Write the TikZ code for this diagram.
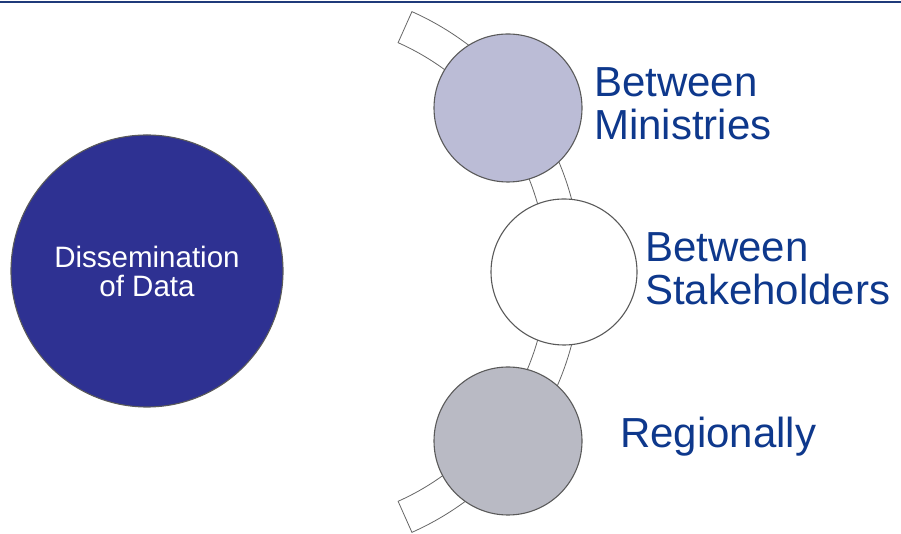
\documentclass[tikz,border=0pt]{standalone}
\usepackage{fontspec}
\setmainfont{Liberation Sans}
\definecolor{navyline}{HTML}{1F3A7A}
\definecolor{discfill}{HTML}{2E3192}
\definecolor{lavender}{HTML}{BBBCD6}
\definecolor{greyfill}{HTML}{B9BAC4}
\definecolor{labelblue}{HTML}{0E388C}
\definecolor{rimgrey}{HTML}{5A5A5A}
\begin{document}
\begin{tikzpicture}[x=1pt,y=1pt,
  disc/.style={circle, draw=rimgrey, line width=1.1pt, inner sep=0pt},
  label/.style={text=labelblue, font=\fontsize{42}{43}\selectfont, align=left, inner sep=0pt},
  band/.style={draw=gray!80!black, line width=0.8pt, fill=white}]
\useasboundingbox (0,0) rectangle (901,534);
% top rule
\draw[navyline, line width=2pt] (0,532) -- (901,532);
% curved band
\coordinate (arcc) at (296,262);
\draw[band] (arcc) ++(-66:285) arc[start angle=-66, end angle=66, radius=285]
  -- ++(66:-34) arc[start angle=66, end angle=-66, radius=251] -- cycle;
% big circle
\node[disc, fill=discfill, minimum size=272pt, text=white,
  font=\fontsize{29.5}{29}\selectfont, align=center] (dis) at (147,263) {Dissemination\\of Data};
% small circles
\node[disc, fill=lavender, minimum size=148pt] (c1) at (508,426) {};
\node[disc, fill=white, minimum size=146pt] (c2) at (564,262) {};
\node[disc, fill=greyfill, minimum size=148pt] (c3) at (508,93) {};
% labels
\node[label, anchor=base west] (l1) at (594,394) {Between\\Ministries};
\node[label, anchor=base west] (l2) at (645,229) {Between\\Stakeholders};
\node[label, anchor=base west] (l3) at (620,86) {Regionally};
\end{tikzpicture}
\end{document}
